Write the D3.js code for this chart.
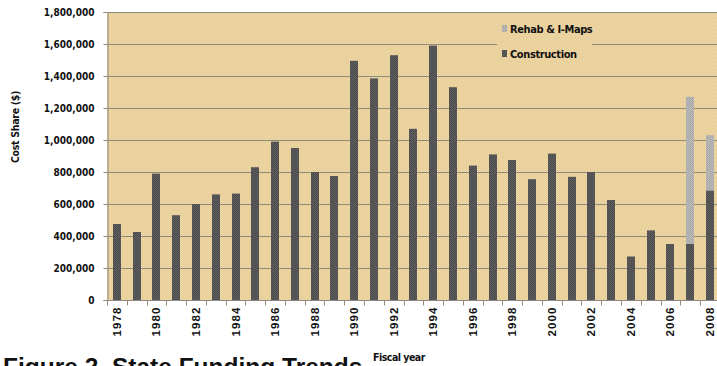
<!DOCTYPE html>
<html>
<head>
<meta charset="utf-8">
<script src="https://cdn.jsdelivr.net/npm/d3@7"></script>
<style>
  html, body { margin: 0; padding: 0; background: #ffffff; }
  svg { display: block; }
  .tick-y { font-family: "DejaVu Sans Condensed", "DejaVu Sans", sans-serif; font-stretch: condensed; font-weight: bold; font-size: 10px; fill: #111; }
  .tick-x { font-family: "Liberation Sans", Arial, sans-serif; font-weight: bold; font-size: 11.5px; fill: #111; letter-spacing: 1.1px; }
  .lbl { font-family: "DejaVu Sans Condensed", "DejaVu Sans", sans-serif; font-stretch: condensed; font-weight: bold; fill: #111; }
  .title { font-family: "Liberation Sans", Arial, sans-serif; font-weight: bold; font-size: 24.5px; fill: #111; }
</style>
</head>
<body>
<svg id="chart" width="717" height="366"></svg>
<script>
// Fiscal years and state cost share ($) by program
const years = d3.range(1978, 2009).map(String);
const construction = [
  475000, 425000, 790000, 530000, 600000, 660000, 665000, 830000, 990000, 950000,
  800000, 775000, 1495000, 1385000, 1530000, 1070000, 1590000, 1330000, 840000, 910000,
  875000, 755000, 915000, 770000, 800000, 625000, 272000, 435000, 350000, 350000,
  685000
];
const rehab = [
  0, 0, 0, 0, 0, 0, 0, 0, 0, 0,
  0, 0, 0, 0, 0, 0, 0, 0, 0, 0,
  0, 0, 0, 0, 0, 0, 0, 0, 0, 920000,
  345000
];
const yTicks = d3.range(0, 1800001, 200000);
const xLabelYears = years.filter((d, i) => i % 2 === 0);
const seriesNames = ["Rehab & I-Maps", "Construction"];

const svg = d3.select("#chart");
const plotLeft = 107, plotTop = 12, plotH = 288;
const step = 19.77;
const plotRight = plotLeft + step * years.length;

const x = d3.scaleBand().domain(years).range([plotLeft, plotRight]).paddingInner(0.6).paddingOuter(0.3);
const y = d3.scaleLinear().domain([0, 1800000]).range([plotTop + plotH, plotTop]);

// Textured fills: parchment background and dithered bar tones
const defs = svg.append("defs");
function dither(id, colors, size) {
  const p = defs.append("pattern").attr("id", id).attr("patternUnits", "userSpaceOnUse")
    .attr("width", size).attr("height", size);
  colors.forEach((row, r) => row.forEach((c, k) => {
    p.append("rect").attr("x", k).attr("y", r).attr("width", 1).attr("height", 1).attr("fill", c);
  }));
}
dither("paper", [
  ["#efd8a4", "#e4cc96", "#eed5a6", "#e8d098"],
  ["#e6cd9a", "#f0dbaa", "#e2c992", "#edd4a1"],
  ["#ecd3a0", "#e5cd95", "#f0d9a8", "#e4cb98"],
  ["#e8d09c", "#efd7a8", "#e6cc97", "#efdaa5"]
], 4);
dither("dark", [
  ["#4c4c4c", "#5e5e5e"],
  ["#5e5e5e", "#4c4c4c"]
], 2);
dither("light", [
  ["#a8a8a8", "#bababa"],
  ["#bababa", "#a8a8a8"]
], 2);

const clip = defs.append("clipPath").attr("id", "plotclip");
clip.append("rect").attr("x", plotLeft).attr("y", plotTop).attr("width", plotRight - plotLeft).attr("height", plotH);

// Plot background
svg.append("rect").attr("x", plotLeft).attr("y", plotTop).attr("width", plotRight - plotLeft).attr("height", plotH)
  .attr("fill", "url(#paper)");

// Horizontal gridlines
svg.append("g").selectAll("line").data(yTicks.filter(d => d > 0)).join("line")
  .attr("x1", plotLeft).attr("x2", plotRight)
  .attr("y1", d => Math.round(y(d)) + 0.5).attr("y2", d => Math.round(y(d)) + 0.5)
  .attr("stroke", "#8e8a7e").attr("stroke-width", 1);

// Stacked bars
const rows = years.map((yr, i) => ({ year: yr, Construction: construction[i], "Rehab & I-Maps": rehab[i] }));
const stack = d3.stack().keys(["Construction", "Rehab & I-Maps"])(rows);
const fills = { "Construction": "url(#dark)", "Rehab & I-Maps": "url(#light)" };
const barG = svg.append("g").attr("clip-path", "url(#plotclip)");
stack.forEach(layer => {
  barG.append("g").selectAll("rect").data(layer.filter(d => d[1] > d[0])).join("rect")
    .attr("x", d => Math.round(x(d.data.year)))
    .attr("width", Math.round(x.bandwidth()))
    .attr("y", d => y(d[1]))
    .attr("height", d => y(d[0]) - y(d[1]))
    .attr("fill", fills[layer.key]);
});

// Y axis
const yAxis = svg.append("g").attr("transform", `translate(${plotLeft + 0.5},0)`)
  .call(d3.axisLeft(y).tickValues(yTicks).tickSize(4).tickPadding(9).tickFormat(d3.format(",")));
yAxis.select(".domain").attr("stroke", "#8e8a7e");
yAxis.selectAll(".tick line").attr("stroke", "#8e8a7e");
yAxis.selectAll(".tick text").attr("class", "tick-y").attr("fill", null);

// X axis: boundary ticks between categories, labels every other year
const xAxisY = Math.round(y(0)) + 0.5;
svg.append("line").attr("x1", plotLeft).attr("x2", plotRight).attr("y1", xAxisY).attr("y2", xAxisY)
  .attr("stroke", "#8e8a7e");
svg.append("g").selectAll("line").data(years).join("line")
  .attr("x1", d => Math.round(x(d) - x.step() * 0.3) + 0.5)
  .attr("x2", d => Math.round(x(d) - x.step() * 0.3) + 0.5)
  .attr("y1", xAxisY).attr("y2", xAxisY + 5)
  .attr("stroke", "#8e8a7e");
svg.append("g").selectAll("text").data(xLabelYears).join("text")
  .attr("class", "tick-x")
  .attr("text-anchor", "end")
  .attr("transform", d => `translate(${x(d) + x.bandwidth() / 2 + 4},${xAxisY + 6}) rotate(-90)`)
  .text(d => d);

// Legend with its own background panel
const lg = svg.append("g");
lg.append("rect").attr("x", 497).attr("y", 18).attr("width", 95).attr("height", 46).attr("fill", "url(#paper)");
const legendRows = [
  { name: seriesNames[0], fill: "url(#light)", cy: 29 },
  { name: seriesNames[1], fill: "url(#dark)", cy: 54 }
];
legendRows.forEach(r => {
  lg.append("rect").attr("x", 502).attr("y", r.cy - 4).attr("width", 5).attr("height", 7).attr("fill", r.fill);
  lg.append("text").attr("class", "lbl").attr("x", 510).attr("y", r.cy + 4)
    .attr("font-size", "11px").attr("letter-spacing", "-0.4px").text(r.name);
});

// Axis titles
svg.append("text").attr("class", "lbl").attr("font-size", "10.5px").attr("letter-spacing", "-0.3px")
  .attr("text-anchor", "middle")
  .attr("transform", "translate(19,127) rotate(-90)")
  .text("Cost Share ($)");
svg.append("text").attr("class", "lbl").attr("font-size", "10.5px").attr("letter-spacing", "-0.5px")
  .attr("x", 373).attr("y", 361).text("Fiscal year");

// Figure caption, running off the bottom edge of the page
svg.append("text").attr("class", "title").attr("x", 3).attr("y", 375).text("Figure 2. State Funding Trends");
</script>
</body>
</html>
